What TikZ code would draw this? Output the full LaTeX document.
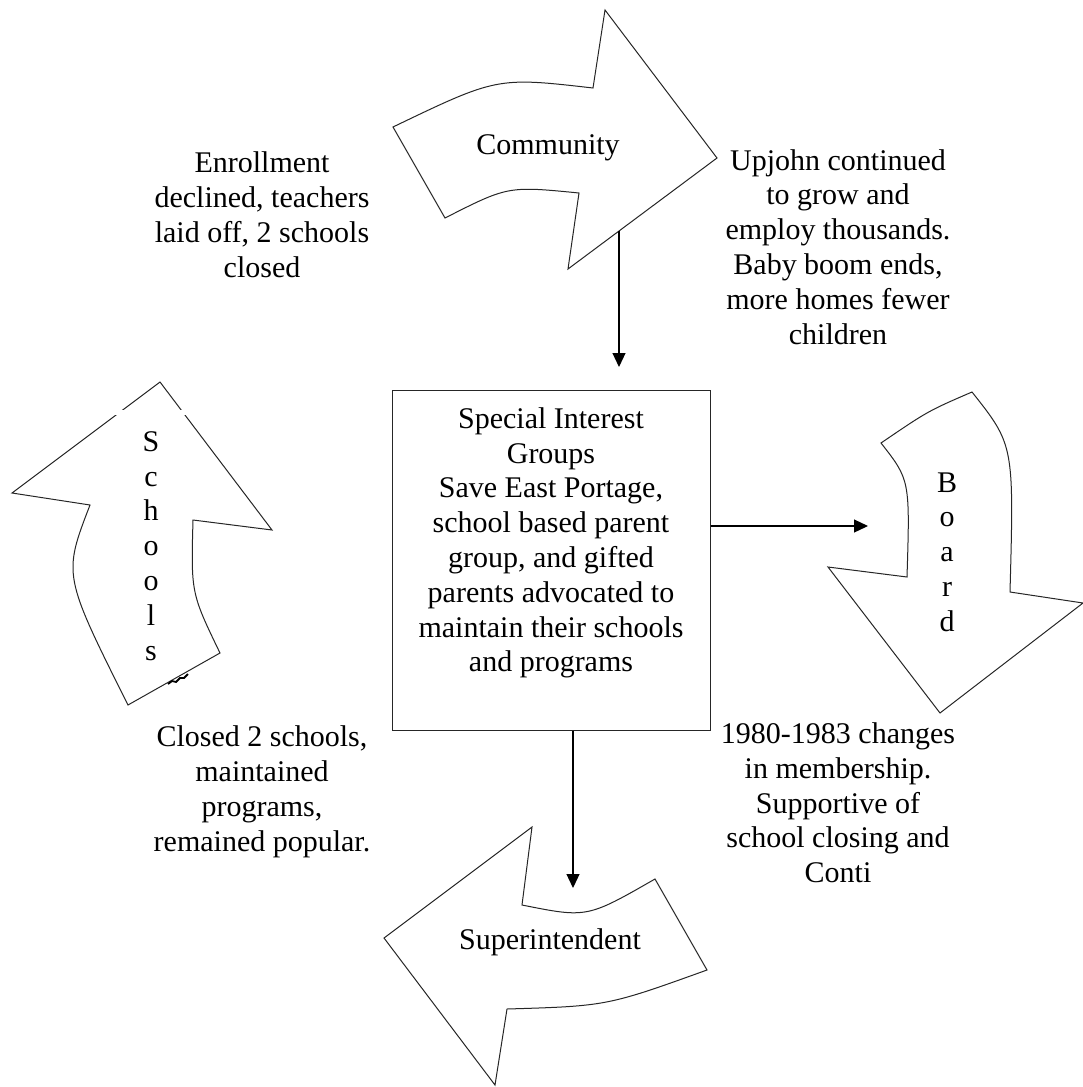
\documentclass[tikz,border=0pt]{standalone}
\usepackage{fontspec}
\setmainfont{Liberation Serif}
\usetikzlibrary{arrows.meta}

\tikzset{
  bigarrow/.style={draw=black!85, line width=1pt, fill=white, line join=miter},
  txt/.style={align=center, inner sep=0pt, font=\fontsize{30}{34.8}\selectfont,
              execute at begin node=\strut, execute at end node=\strut},
  sigbox/.style={draw=black!85, line width=1pt, minimum width=318pt, minimum height=340pt, inner sep=0pt},
  conn/.style={draw=black, line width=1.2pt, -{Triangle[length=14pt,width=13pt]}}
}

\begin{document}
\begin{tikzpicture}[x=1pt, y=-1pt]
\useasboundingbox (0,0) rectangle (1083,1087);

% Community: curved arrow pointing right
\draw[bigarrow] (393,127) .. controls (497,77) .. (593,88)
  -- (605,10) -- (717,158) -- (568,269) -- (579,193)
  .. controls (508,186) .. (445,218) -- cycle;
\node[txt] (community) at (548,148) {Community};

% Board: curved arrow pointing down
\draw[bigarrow] (881,443) .. controls (928,411) .. (972,392)
  .. controls (1014,445) .. (1010,592)
  -- (1083,603) -- (940,713) -- (828,567) -- (907,577)
  .. controls (910,480) .. cycle;
\node[txt] (board) at (947,557) {B\\o\\a\\r\\d};

% Superintendent: curved arrow pointing left
\draw[bigarrow] (532,827) -- (522,905) .. controls (587,918) .. (655,879)
  -- (707,970) .. controls (607,1006) .. (507,1009)
  -- (495,1085) -- (384,938) -- cycle;
\node[txt] (supt) at (550,943) {Superintendent};

% Schools: curved arrow pointing up
\draw[bigarrow] (160,382) -- (12,493) -- (90,505)
  .. controls (63,575) .. (128,705) -- (220,653)
  .. controls (191,593) .. (193,520) -- (272,530) -- cycle;
\fill[white] (110,409.5) rectangle (196,414.5);
\draw[line width=1.8pt] (168,684) -- (172,681) -- (176,682) -- (180,678) -- (184,678) -- (188,674);
\node[txt] (schools) at (151,551) {S\\c\\h\\o\\o\\l\\s};

% Central box
\node[sigbox] (sig) at (551,560) {};
\node[txt] (sigtext) at (551,545) {Special Interest\\Groups\\Save East Portage,\\school based parent\\group, and gifted\\parents advocated to\\maintain their schools\\and programs};

% Side notes
\node[txt] (enroll) at (262,220) {Enrollment\\declined, teachers\\laid off, 2 schools\\closed};
\node[txt] (upjohn) at (838,252) {Upjohn continued\\to grow and\\employ thousands.\\Baby boom ends,\\more homes fewer\\children};
\node[txt] (closed) at (262,794) {Closed 2 schools,\\maintained\\programs,\\remained popular.};
\node[txt] (member) at (838,808) {1980-1983 changes\\in membership.\\Supportive of\\school closing and\\Conti};

% Connectors
\coordinate (cTop) at (619,231);
\coordinate (cTopEnd) at (619,367);
\coordinate (cRightEnd) at (868,526);
\coordinate (cDownEnd) at (573,888);
\draw[conn] (cTop) -- (cTopEnd);
\draw[conn] (sig.east |- cRightEnd) -- (cRightEnd);
\draw[conn] (sig.south -| cDownEnd) -- (cDownEnd);
\end{tikzpicture}
\end{document}
